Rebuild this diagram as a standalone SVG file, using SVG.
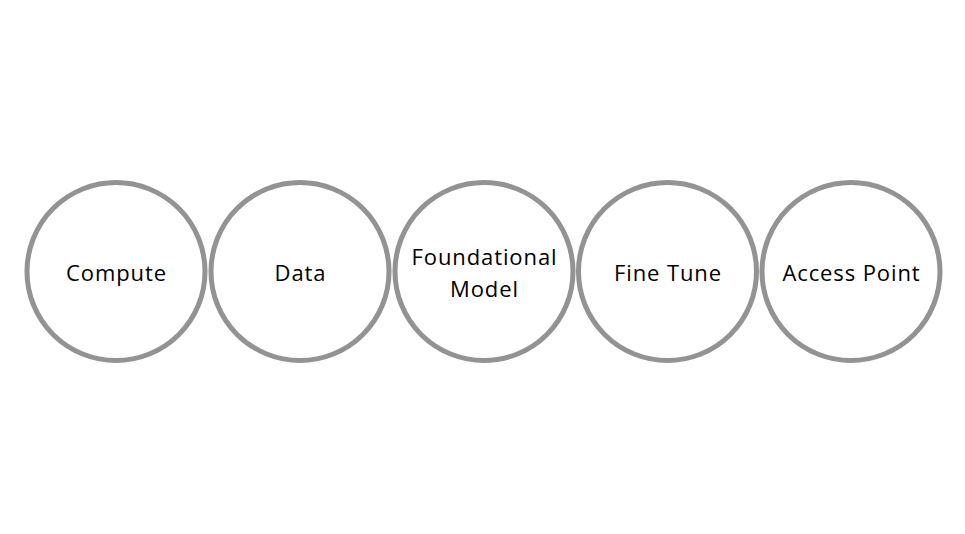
<svg xmlns="http://www.w3.org/2000/svg" width="965" height="534" viewBox="0 0 965 534">
<style>
.node circle{fill:#ffffff;stroke:#939393;stroke-width:5}
.node text{font-family:"Open Sans","Noto Sans",sans-serif;font-size:22px;letter-spacing:0.9px;fill:#000000;text-anchor:middle}
</style>
<rect width="965" height="534" fill="#ffffff"/>
<g id="connectors"></g>
<g id="compute" class="node"><circle cx="116" cy="271.5" r="89"/><text x="116.5" y="281">Compute</text></g>
<g id="data" class="node"><circle cx="300" cy="271.5" r="89"/><text x="300.5" y="281">Data</text></g>
<g id="foundational-model" class="node"><circle cx="484" cy="271.5" r="89"/><text x="484.5" y="265">Foundational</text><text x="484.5" y="297">Model</text></g>
<g id="fine-tune" class="node"><circle cx="667.5" cy="271.5" r="89"/><text x="668" y="281">Fine Tune</text></g>
<g id="access-point" class="node"><circle cx="851" cy="271.5" r="89"/><text x="851.5" y="281">Access Point</text></g>
</svg>
